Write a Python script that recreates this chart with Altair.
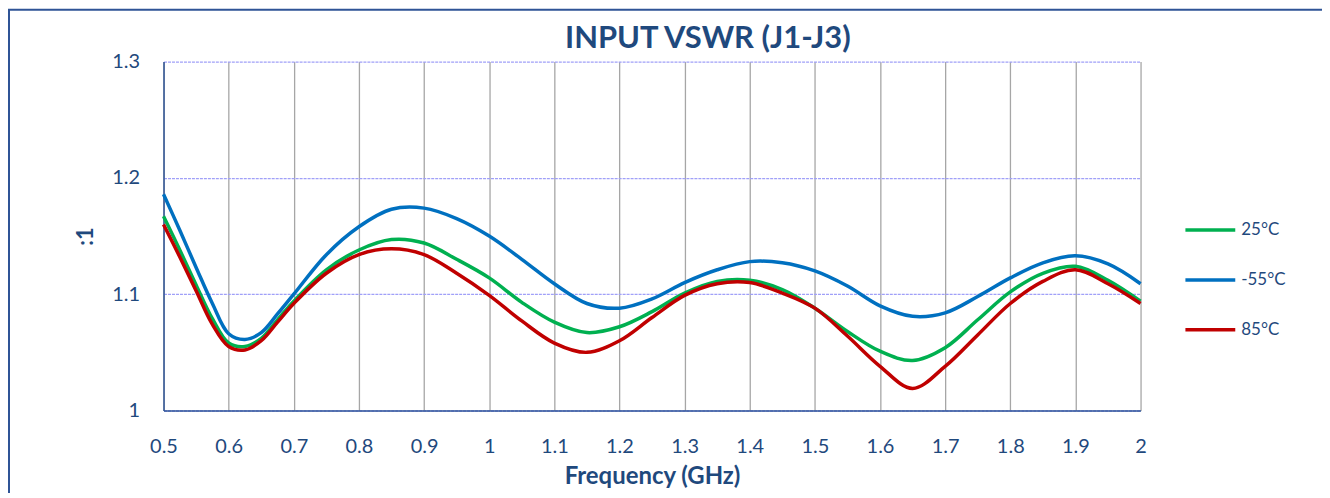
import altair as alt
import pandas as pd

freq = [0.5, 0.525, 0.55, 0.575, 0.6, 0.625, 0.65, 0.675, 0.7, 0.75, 0.8, 0.85,
        0.9, 0.95, 1.0, 1.05, 1.1, 1.15, 1.2, 1.25, 1.3, 1.35, 1.4, 1.45, 1.5,
        1.55, 1.6, 1.65, 1.7, 1.75, 1.8, 1.85, 1.9, 1.95, 2.0]

vswr_25 = [1.167, 1.138, 1.108, 1.079, 1.058, 1.055, 1.062, 1.078, 1.094, 1.121,
           1.138, 1.147, 1.144, 1.130, 1.114, 1.093, 1.076, 1.067, 1.072, 1.085,
           1.101, 1.111, 1.112, 1.104, 1.088, 1.068, 1.051, 1.043, 1.054, 1.078,
           1.102, 1.118, 1.124, 1.112, 1.094]

vswr_m55 = [1.186, 1.155, 1.123, 1.092, 1.066, 1.061, 1.067, 1.083, 1.100, 1.134,
            1.158, 1.173, 1.174, 1.165, 1.150, 1.130, 1.109, 1.092, 1.088, 1.096,
            1.110, 1.121, 1.128, 1.127, 1.120, 1.107, 1.090, 1.081, 1.084, 1.098,
            1.114, 1.127, 1.133, 1.126, 1.109]

vswr_85 = [1.160, 1.132, 1.103, 1.074, 1.055, 1.052, 1.060, 1.076, 1.092, 1.118,
           1.134, 1.139, 1.134, 1.118, 1.099, 1.077, 1.058, 1.050, 1.060, 1.080,
           1.099, 1.109, 1.110, 1.101, 1.088, 1.064, 1.038, 1.019, 1.038, 1.065,
           1.092, 1.111, 1.121, 1.109, 1.092]

series_names = ["25°C", "-55°C", "85°C"]
series_colors = ["#00B050", "#0070C0", "#C00000"]

x_ticks = [0.5, 0.6, 0.7, 0.8, 0.9, 1.0, 1.1, 1.2, 1.3, 1.4, 1.5, 1.6, 1.7, 1.8, 1.9, 2.0]
y_ticks = [1.0, 1.1, 1.2, 1.3]

rows = []
for name, vals in zip(series_names, [vswr_25, vswr_m55, vswr_85]):
    for f, v in zip(freq, vals):
        rows.append({"freq": f, "vswr": v, "series": name})
df = pd.DataFrame(rows)

FONT = "Lato"
TXT = "#1F497D"

lines = alt.Chart(df).mark_line(strokeWidth=3.5, interpolate="catmull-rom").encode(
    x=alt.X("freq:Q",
            scale=alt.Scale(domain=[0.5, 2.0], nice=False, zero=False),
            axis=alt.Axis(values=x_ticks, format="~g", title="Frequency (GHz)",
                          grid=True, gridColor="#A6A6A6", gridWidth=1.3,
                          ticks=False, labelPadding=26, labelFontSize=20,
                          labelFlush=False,
                          titleFontSize=24, titlePadding=8,
                          domainColor="#2F5597", domainWidth=1.5)),
    y=alt.Y("vswr:Q",
            scale=alt.Scale(domain=[1.0, 1.3], nice=False, zero=False),
            axis=alt.Axis(values=y_ticks, format="~g", title=":1",
                          grid=True, gridColor="#A0A0F8", gridWidth=1.3,
                          gridDash=[3, 1], ticks=False, labelPadding=24,
                          labelFontSize=20, titleFontSize=22, titlePadding=14,
                          domainColor="#2F5597", domainWidth=1.5)),
    color=alt.Color("series:N",
                    scale=alt.Scale(domain=series_names, range=series_colors),
                    sort=series_names,
                    legend=alt.Legend(title=None, orient="none", legendX=1023,
                                      legendY=142, symbolType="stroke",
                                      symbolSize=2500, symbolStrokeWidth=3.5,
                                      labelFontSize=17, labelColor=TXT,
                                      labelFont=FONT, labelOffset=4,
                                      rowPadding=15, padding=0)),
)

frame = alt.Chart(pd.DataFrame({"a": [0]})).mark_rect(
    fillOpacity=0, stroke="#2F5496", strokeWidth=2
).encode(
    x=alt.value(-155), x2=alt.value(2000), y=alt.value(-52), y2=alt.value(2000)
)

chart = alt.layer(lines, frame).properties(
    width=980, height=350,
    title=alt.TitleParams("INPUT VSWR (J1-J3)", fontSize=31, font=FONT,
                          fontWeight="bold", color=TXT, anchor="middle",
                          frame="group", dx=56, offset=-46),
    autosize=alt.AutoSizeParams(type="none"),
    padding={"left": 156, "top": 53, "right": 182, "bottom": 82},
).configure_axis(
    labelFont=FONT, titleFont=FONT, labelColor=TXT, titleColor=TXT,
    titleFontWeight="bold",
).configure_view(stroke=None)

chart.save("out.html", embed_options={"renderer": "svg", "actions": False})
